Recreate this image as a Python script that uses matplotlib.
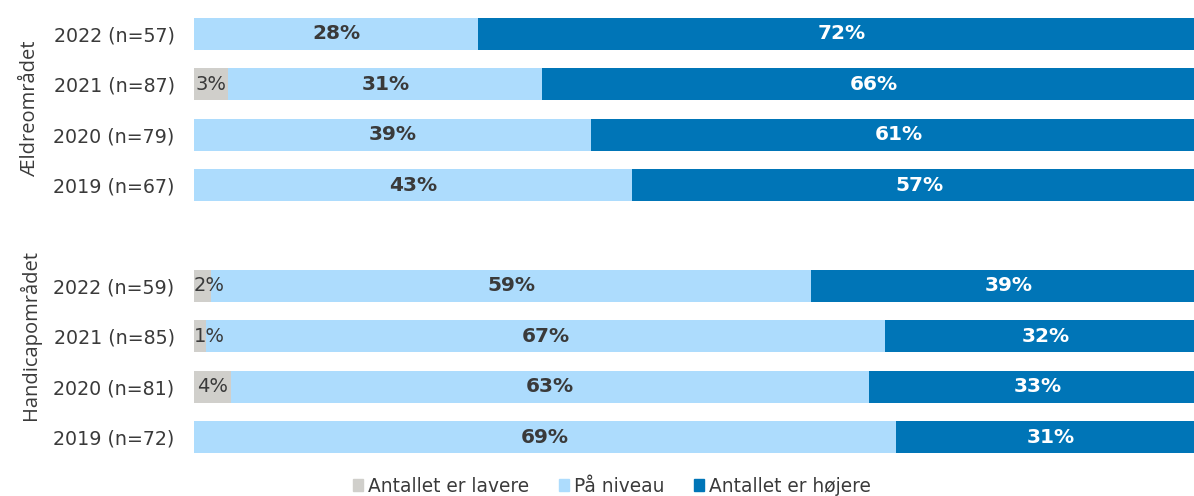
import matplotlib.pyplot as plt
from matplotlib.patches import Patch

# rows from top to bottom, None = gap between the two groups
labels = ["2022 (n=57)", "2021 (n=87)", "2020 (n=79)", "2019 (n=67)", None,
          "2022 (n=59)", "2021 (n=85)", "2020 (n=81)", "2019 (n=72)"]
lavere = [0.0, 3.4, 0.0, 0.0, None, 1.7, 1.2, 3.7, 0.0]
niveau = [28.1, 31.0, 39.2, 43.3, None, 59.3, 67.1, 63.0, 69.4]
hojere = [71.9, 65.5, 60.8, 56.7, None, 39.0, 31.8, 33.3, 30.6]

series_names = ["Antallet er lavere", "På niveau", "Antallet er højere"]
colors = ["#D0CFCB", "#ADDCFD", "#0075B7"]
groups = ["Ældreområdet", "Handicapområdet"]

txt = "#3a3a3a"
plt.rcParams['font.family'] = ['DejaVu Sans']

fig = plt.figure(figsize=(11.94, 4.96), dpi=100)
ax = fig.add_axes([194/1194, (496-462.2)/496, 1012/1194, 453.4/496])

ypos = []
ylab = []
for i, lab in enumerate(labels):
   if lab is None:
      continue
   ypos.append(i)
   ylab.append(lab)
   left = 0
   for j, v in enumerate([lavere[i], niveau[i], hojere[i]]):
      if v > 0:
         ax.barh(i, v, left=left, height=0.64, color=colors[j], edgecolor='none')
         if j == 0:
            ax.text(max(v/2, 1.5), i, "%d%%" % round(v), ha='center', va='center',
                    fontsize=14, color=txt)
         else:
            ax.text(left + v/2, i, "%d%%" % round(v), ha='center', va='center',
                    fontsize=14.5, fontweight='bold', color=txt if j == 1 else 'white')
      left += v

ax.set_xlim(0, 100)
ax.set_ylim(8.5, -0.5)
ax.set_yticks(ypos)
ax.set_yticklabels(ylab, fontsize=13.7, color=txt)
ax.tick_params(axis='y', length=0, pad=14)
ax.set_xticks([])
for s in ax.spines.values():
   s.set_visible(False)

fig.text(30/1194, 1-108/496, groups[0], rotation=90, ha='center', va='center',
         fontsize=14.5, color=txt, family='Open Sans')
fig.text(30/1194, 1-335/496, groups[1], rotation=90, ha='center', va='center',
         fontsize=14.5, color=txt, family='Open Sans')

handles = [Patch(color=c) for c in colors]
fig.legend(handles, series_names, loc='center', bbox_to_anchor=(612/1194, 1-486/496),
           ncol=3, frameon=False, fontsize=13.4, handlelength=0.55, handleheight=0.55,
           handletextpad=0.25, columnspacing=1.6, labelcolor=txt)

fig.savefig("out.png", dpi=100)
